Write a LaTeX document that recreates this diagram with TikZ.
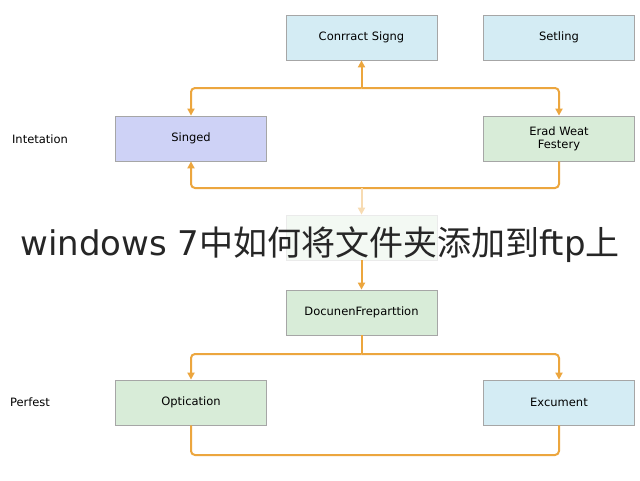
\documentclass[tikz,border=0pt]{standalone}
\usepackage{fontspec}
\setmainfont{DejaVu Sans}
\newfontfamily\cjk{Noto Sans CJK SC}
\usetikzlibrary{positioning,arrows.meta}
\definecolor{boxblue}{RGB}{212,236,244}
\definecolor{boxgreen}{RGB}{216,236,216}
\definecolor{boxlav}{RGB}{206,210,246}
\definecolor{lineor}{RGB}{236,166,62}
\tikzset{
  stage/.style={draw=black!35,line width=0.8pt,minimum width=151pt,minimum height=45pt,inner sep=2pt,align=center,font=\fontsize{11.5}{13}\selectfont},
  flow/.style={draw=lineor,line width=2pt,rounded corners=4pt},
  tip/.style={-{Triangle[length=7pt,width=7pt]}}
}
\begin{document}
\begin{tikzpicture}[x=1pt,y=-1pt]
\useasboundingbox[fill=white] (0,0) rectangle (640,480);

% stages
\node[stage,fill=boxblue] (sign) at (361.5,37.5) {Conrract Signg};
\node[stage,fill=boxblue] (setl) at (559,37.5) {Setling};
\node[stage,fill=boxlav] (singed) at (191,138.5) {Singed};
\node[stage,fill=boxgreen] (erad) at (559,138.5) {Erad Weat\\Festery};
\node[stage,fill=boxgreen!30,draw=black!8] (faded) at (361.5,237.5) {};
\node[stage,fill=boxgreen] (prep) at (361.5,312.5) {DocunenFreparttion};
\node[stage,fill=boxgreen] (optic) at (191,402.5) {Optication};
\node[stage,fill=boxblue] (excu) at (559,402.5) {Excument};

% side labels
\node[font=\fontsize{11.5}{13}\selectfont] (intet) at (40,139) {Intetation};
\node[font=\fontsize{11.5}{13}\selectfont] (perf) at (30,402) {Perfest};

% junctions
\coordinate (j1) at (361.5,88);
\coordinate (j2) at (361.5,188);
\coordinate (j3) at (361.5,354);

% top flow
\draw[flow,tip] (j1) -- (sign.south);
\draw[flow,tip] (j1) -| (singed.north);
\draw[flow,tip] (j1) -| (erad.north);
% middle flow
\draw[flow,tip] (erad.south) |- (j2) -| (singed.south);
\draw[flow,draw=lineor!40,tip] (j2) -- (faded.north);
\draw[flow,tip] (faded.south) -- (prep.north);
% lower flow
\draw[flow] (prep.south) -- (j3);
\draw[flow,tip] (j3) -| (optic.north);
\draw[flow,tip] (j3) -| (excu.north);
\draw[flow] (optic.south) |- (375,455) -| (excu.south);

% title over the chart
\node[text=black!85,font=\fontsize{34}{38}\selectfont] (title) at (320,245) {windows 7{\cjk 中如何将文件夹添加到}ftp{\cjk 上}};
\end{tikzpicture}
\end{document}
